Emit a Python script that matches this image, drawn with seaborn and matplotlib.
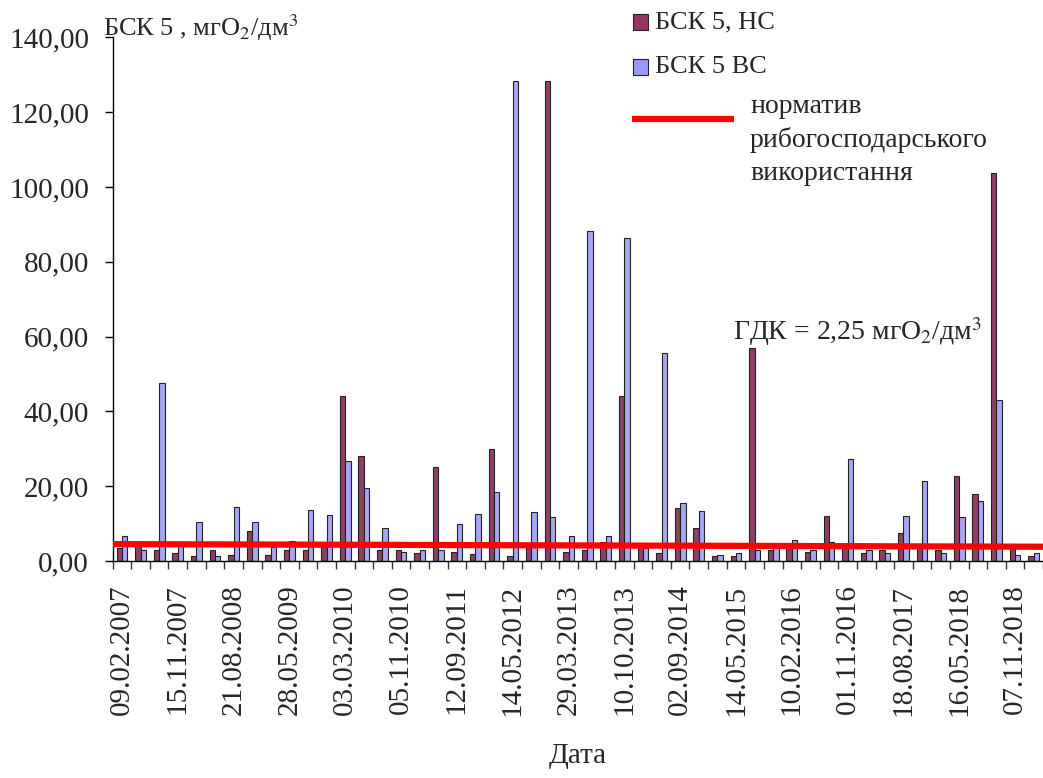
import numpy as np
import pandas as pd
import matplotlib
matplotlib.use('Agg')
import matplotlib.pyplot as plt
from matplotlib.ticker import FuncFormatter, FixedLocator
from matplotlib.patches import Rectangle
from matplotlib.lines import Line2D
import seaborn as sns

# BOD5 values per sampling date (50 sampling dates, every 3rd labelled)
bsk_ns = [3.4, 4.5, 3.0, 2.2, 1.3, 3.0, 1.6, 8.0, 1.6, 2.8,
          3.0, 4.0, 44.1, 28.0, 2.8, 2.8, 2.2, 25.1, 2.5, 1.9,
          29.8, 1.3, 4.0, 128.2, 2.4, 3.0, 5.0, 44.1, 4.0, 2.2,
          14.1, 8.8, 1.2, 1.2, 56.9, 2.8, 4.0, 2.4, 12.1, 4.0,
          2.2, 2.8, 7.4, 4.0, 2.8, 22.8, 17.8, 103.7, 3.5, 1.2]
bsk_vs = [6.8, 2.8, 47.6, 4.0, 10.3, 1.3, 14.4, 10.3, 3.7, 5.4,
          13.5, 12.2, 26.6, 19.6, 8.8, 2.4, 3.0, 2.8, 9.8, 12.6,
          18.4, 128.2, 13.2, 11.8, 6.8, 88.2, 6.8, 86.3, 3.5, 55.6,
          15.5, 13.4, 1.5, 2.1, 3.0, 3.8, 5.6, 2.8, 5.0, 27.2,
          2.8, 2.2, 12.1, 21.4, 2.2, 11.8, 15.9, 43.0, 1.6, 2.2]
norm_line = [4.5, 3.8]
tick_labels = ['09.02.2007', '15.11.2007', '21.08.2008', '28.05.2009',
               '03.03.2010', '05.11.2010', '12.09.2011', '14.05.2012',
               '29.03.2013', '10.10.2013', '02.09.2014', '14.05.2015',
               '10.02.2016', '01.11.2016', '18.08.2017', '16.05.2018',
               '07.11.2018']
series_names = ['БСК 5, НС', 'БСК 5 ВС']
y_ticks = [0, 20, 40, 60, 80, 100, 120, 140]

sns.set_style('white')
plt.rcParams['font.family'] = ['Liberation Serif', 'DejaVu Serif']
plt.rcParams['mathtext.fontset'] = 'stix'

n = len(bsk_ns)
df = pd.DataFrame({
    'idx': list(range(n)) * 2,
    'val': bsk_ns + bsk_vs,
    'series': [series_names[0]] * n + [series_names[1]] * n,
})
colors = {series_names[0]: '#993366', series_names[1]: '#9999FF'}

fig = plt.figure(figsize=(10.43, 7.78), dpi=100)
ax = fig.add_axes([0.108, 0.279, 0.892, 0.673])

sns.barplot(data=df, x='idx', y='val', hue='series', palette=colors,
            width=0.58, edgecolor='#222222', linewidth=0.8, ax=ax,
            legend=False)

ax.set_xlim(-0.5, n - 0.5)
ax.plot(ax.get_xlim(), norm_line, color='#FF0000', linewidth=4.5, zorder=5,
        solid_capstyle='butt')

ax.set_ylim(0, 140)
ax.set_yticks(y_ticks)
ax.yaxis.set_major_formatter(FuncFormatter(lambda v, p: f'{v:.2f}'.replace('.', ',')))
ax.tick_params(axis='y', which='major', length=6, width=1, direction='out',
               left=True, labelsize=21, pad=11, color='black')

ax.set_xticks(range(0, n, 3))
ax.set_xticklabels(tick_labels, rotation=90, fontsize=21)
ax.xaxis.set_minor_locator(FixedLocator(np.arange(-0.5, n, 1.0)))
ax.tick_params(axis='x', which='major', length=0, pad=17)
ax.tick_params(axis='x', which='minor', length=6, width=1, direction='out',
               bottom=True, color='#333333')
ax.set_xlabel('Дата', fontsize=21, labelpad=20)
ax.set_ylabel('')

for s in ['top', 'right']:
    ax.spines[s].set_visible(False)
for s in ['left', 'bottom']:
    ax.spines[s].set_color('black')
    ax.spines[s].set_linewidth(1)

# axis title and annotation
fig.text(103 / 1043, 1 - 28 / 778, 'БСК 5 , мгО$_2$/дм$^3$', fontsize=19,
         va='center', ha='left')
fig.text(733 / 1043, 1 - 332 / 778, 'ГДК = 2,25 мгО$_2$/дм$^3$', fontsize=20,
         va='center', ha='left')

# legend drawn in figure pixels
W, H = 1043, 778
def px(x, y):
    return x / W, 1 - y / H

for (yc, name) in zip([22, 67], series_names):
    x0, y0 = px(633, yc + 8)
    fig.patches.append(Rectangle((x0, y0), 15 / W, 16 / H, transform=fig.transFigure,
                                 facecolor=colors[name], edgecolor='#222222', linewidth=0.8))
    tx, ty = px(655, yc)
    fig.text(tx, ty, name, fontsize=19, va='center', ha='left')

lx0, ly = px(632, 119)
lx1, _ = px(734, 119)
fig.lines.append(Line2D([lx0, lx1], [ly, ly], transform=fig.transFigure,
                        color='#FF0000', linewidth=4.5, solid_capstyle='butt'))
tx, ty = px(750, 140)
fig.text(tx, ty, 'норматив\nрибогосподарського\nвикористання', fontsize=20,
         va='center', ha='left', linespacing=1.4)

fig.savefig('out.png', dpi=100)
